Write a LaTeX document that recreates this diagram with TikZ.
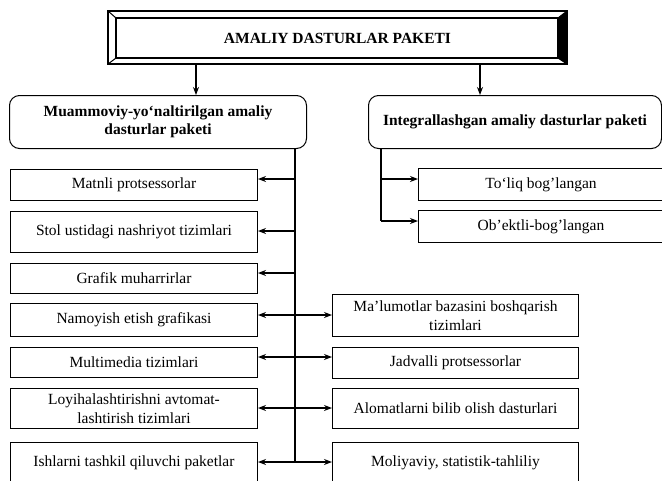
\documentclass[tikz,border=0pt]{standalone}
\usepackage{fontspec}
\setmainfont{Liberation Serif}
\usetikzlibrary{arrows.meta}
\begin{document}
\begin{tikzpicture}[x=1pt,y=-1pt,
  txt/.style={font=\fontsize{15.5}{18.5}\selectfont},
  rbox/.style={draw,line width=1pt,anchor=north west,inner sep=0pt,align=center,txt},
  rnd/.style={rbox,rounded corners=10pt,font=\fontsize{15.5}{18.5}\selectfont\bfseries},
  line/.style={line width=1.3pt},
  arr/.style={line,-{Stealth[length=8pt,width=6pt]}},
  darr/.style={line,{Stealth[length=8pt,width=6pt]}-{Stealth[length=8pt,width=6pt]}}]
\useasboundingbox (0,0) rectangle (662,480);
\fill[white] (0,0) rectangle (662,480);

% top bevelled box
\fill[black] (558,18) -- (567,11) -- (567,64) -- (558,58) -- cycle;
\draw[line width=1.4pt] (108,11) rectangle (567,64);
\draw[line width=1.2pt] (116,18) rectangle (558,58);
\draw[line width=1pt] (108,11) -- (116,18) (567,11) -- (558,18) (108,64) -- (116,58) (567,64) -- (558,58);
\draw[line width=2pt] (108,64) -- (567,64);
\node[txt,font=\fontsize{15.5}{18.5}\selectfont\bfseries] (top) at (337.5,38) {AMALIY DASTURLAR PAKETI};

% second level
\node[rnd,minimum width=297pt,minimum height=53pt] (lb) at (9,95) {Muammoviy-yo‘naltirilgan amaliy\\dasturlar paketi};
\node[rnd,minimum width=293pt,minimum height=53pt] (rb) at (368,95) {Integrallashgan amaliy dasturlar paketi};

\coordinate (a1) at (196,64);
\coordinate (a2) at (480,64);
\draw[arr] (a1) -- (a1 |- lb.north);
\draw[arr] (a2) -- (a2 |- rb.north);

% right branch boxes
\node[rbox,minimum width=245pt,minimum height=32pt] (r1) at (418,168) {To‘liq bog’langan};
\node[rbox,minimum width=245pt,minimum height=32pt] (r2) at (418,210) {Ob’ektli-bog’langan};
\coordinate (rt) at (381,148);
\coordinate (rbot) at (381,221);
\coordinate (rq1) at (381,179);
\draw[line] (rt) -- (rbot);
\draw[arr] (rq1) -- (rq1 -| r1.west);
\draw[arr] (rbot) -- (rbot -| r2.west);

% left column boxes
\node[rbox,minimum width=247pt,minimum height=31pt] (m1) at (10,169) {Matnli protsessorlar};
\node[rbox,minimum width=247pt,minimum height=41pt] (m2) at (10,211) {Stol ustidagi nashriyot tizimlari};
\node[rbox,minimum width=247pt,minimum height=30pt] (m3) at (10,263) {Grafik muharrirlar};
\node[rbox,minimum width=247pt,minimum height=33pt] (m4) at (10,303) {Namoyish etish grafikasi};
\node[rbox,minimum width=247pt,minimum height=30pt] (m5) at (10,347) {Multimedia tizimlari};
\node[rbox,minimum width=247pt,minimum height=40pt] (m6) at (10,388) {Loyihalashtirishni avtomat-\\lashtirish tizimlari};
\node[rbox,minimum width=247pt,minimum height=40pt] (m7) at (10,442) {Ishlarni tashkil qiluvchi paketlar};

% right column boxes
\node[rbox,minimum width=246pt,minimum height=42pt] (n1) at (332,294) {Ma’lumotlar bazasini boshqarish\\tizimlari};
\node[rbox,minimum width=246pt,minimum height=31pt] (n2) at (332,347) {Jadvalli protsessorlar};
\node[rbox,minimum width=246pt,minimum height=40pt] (n3) at (332,388) {Alomatlarni bilib olish dasturlari};
\node[rbox,minimum width=246pt,minimum height=40pt] (n4) at (332,442) {Moliyaviy, statistik-tahliliy};

% trunk
\coordinate (tb) at (295,462);
\draw[line] (lb.south -| tb) -- (tb);
\coordinate (t1) at (295,179);
\coordinate (t2) at (295,231);
\coordinate (t3) at (295,273);
\coordinate (t4) at (295,315);
\coordinate (t5) at (295,357);
\coordinate (t6) at (295,408);
\draw[arr] (t1) -- (t1 -| m1.east);
\draw[arr] (t2) -- (t2 -| m2.east);
\draw[arr] (t3) -- (t3 -| m3.east);
\draw[darr] (t4 -| m4.east) -- (t4 -| n1.west);
\draw[darr] (t5 -| m5.east) -- (t5 -| n2.west);
\draw[darr] (t6 -| m6.east) -- (t6 -| n3.west);
\draw[darr] (tb -| m7.east) -- (tb -| n4.west);
\end{tikzpicture}
\end{document}
